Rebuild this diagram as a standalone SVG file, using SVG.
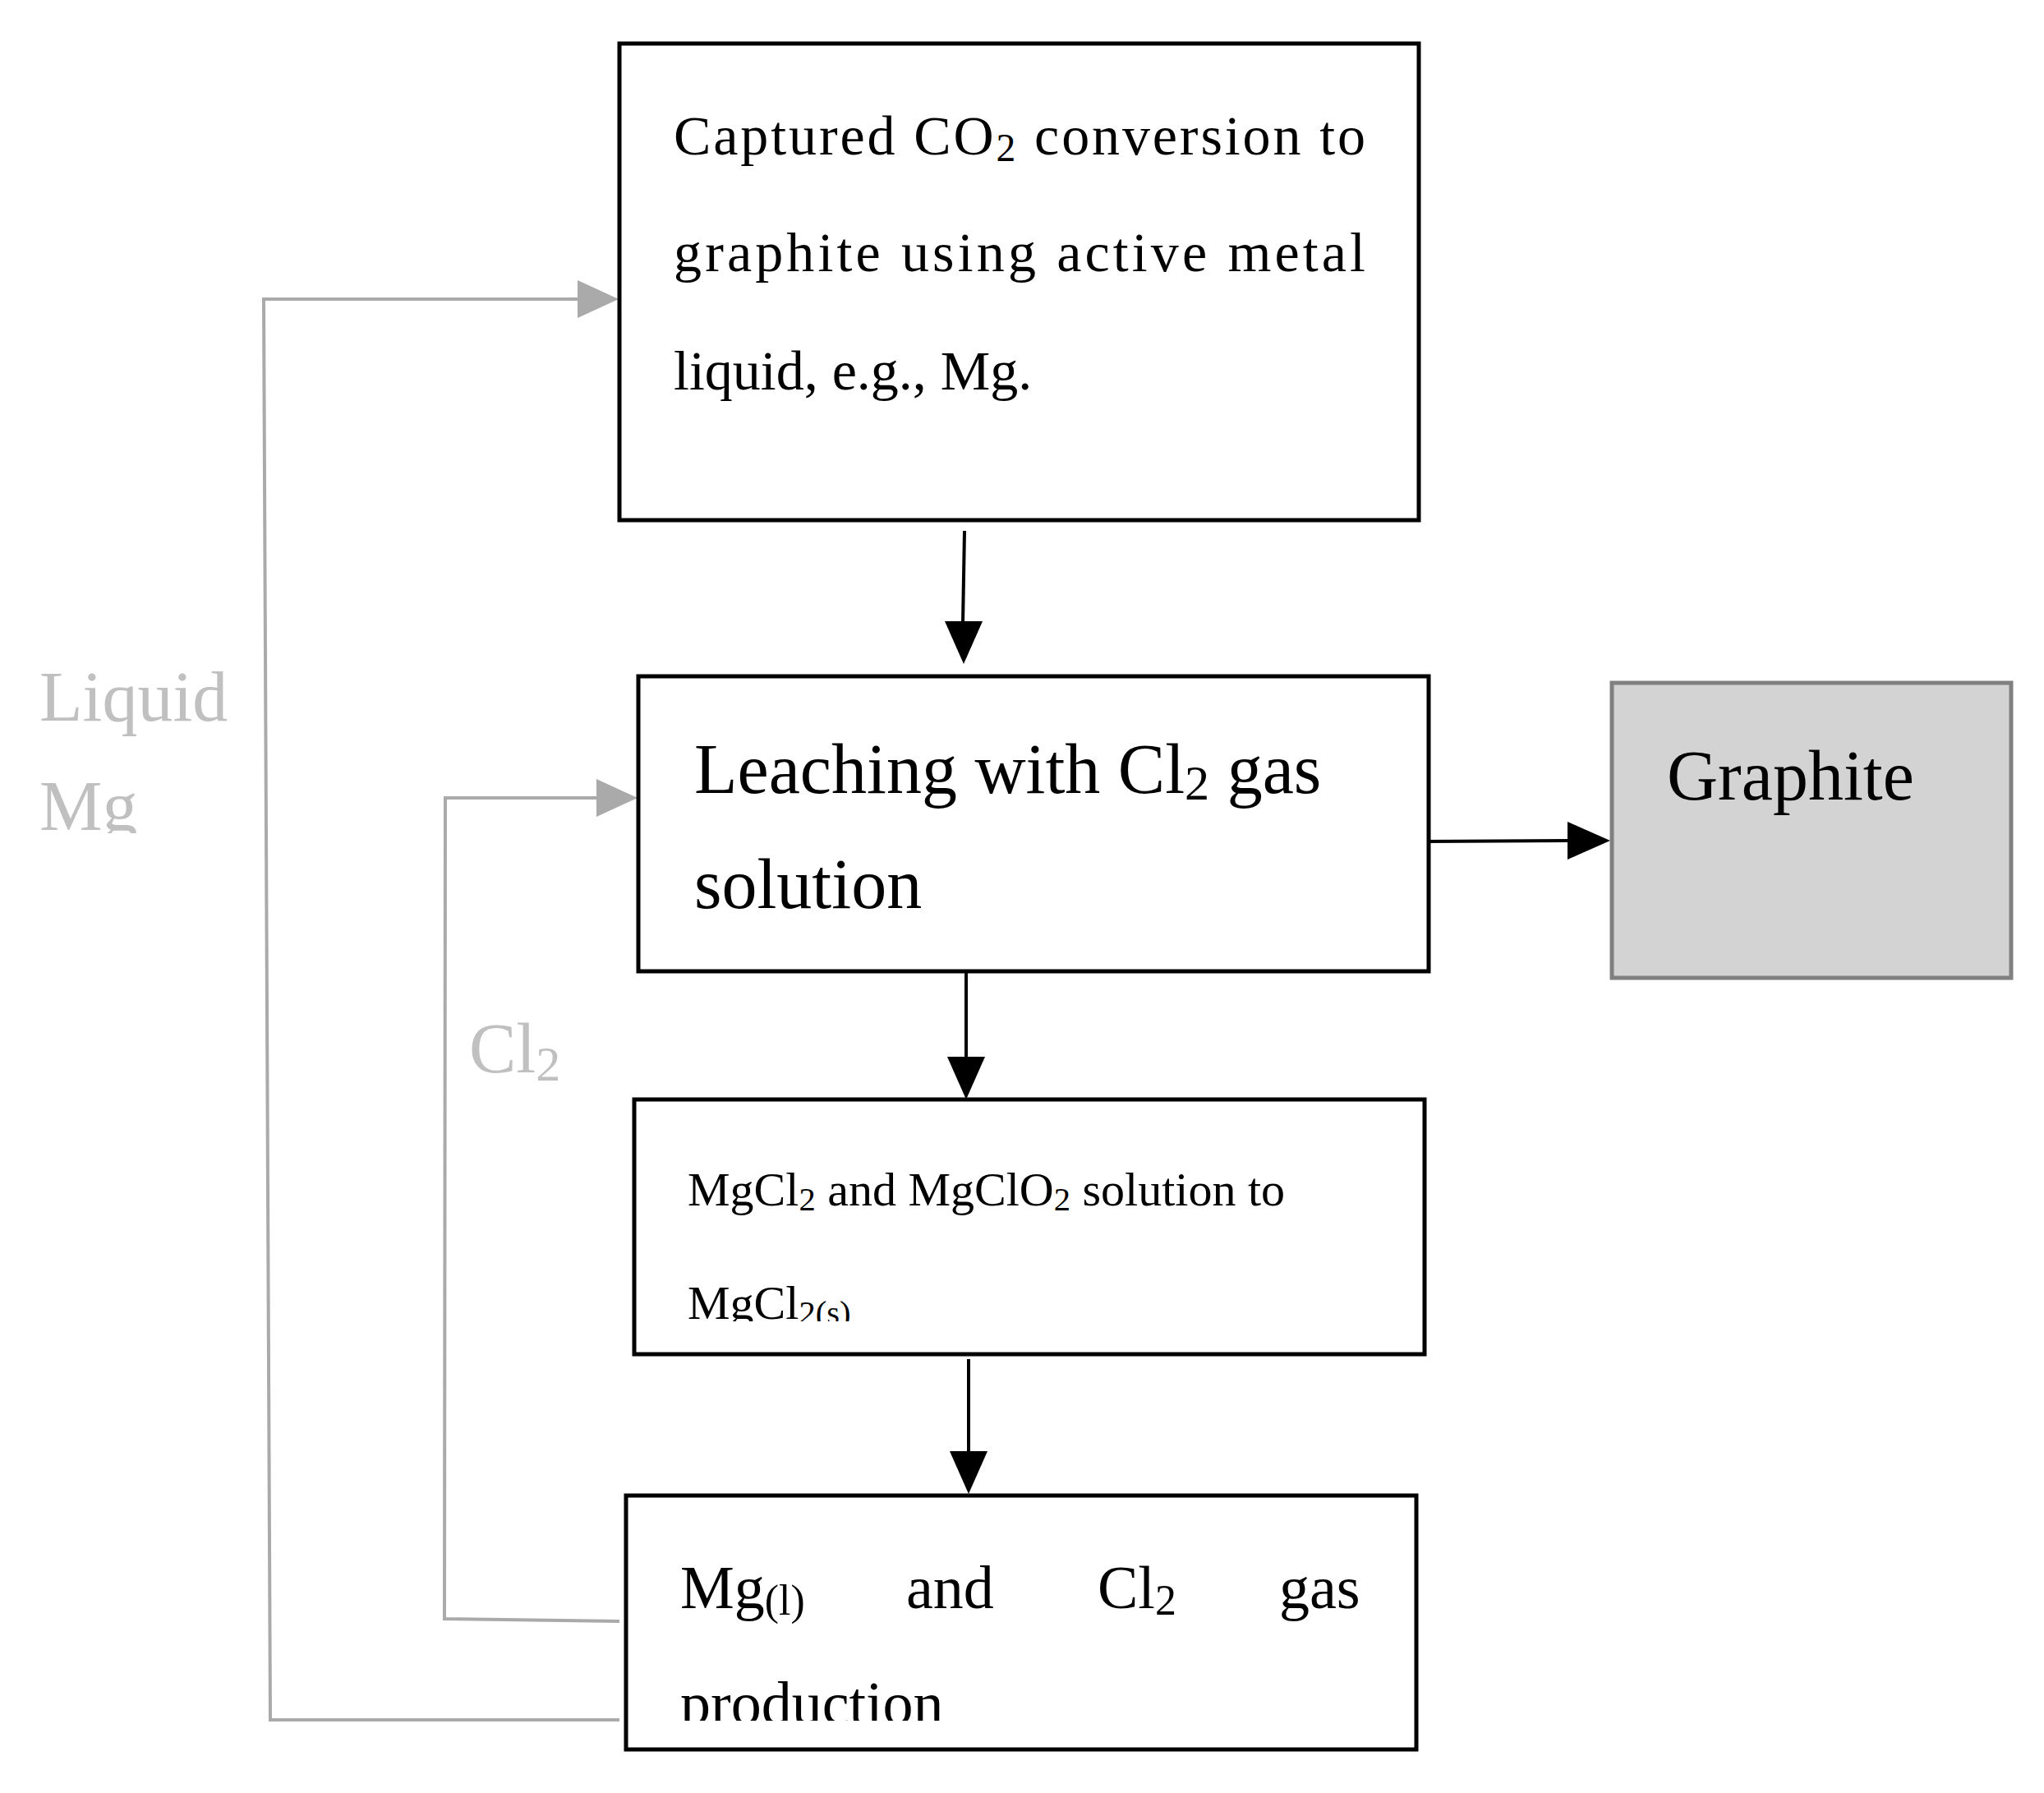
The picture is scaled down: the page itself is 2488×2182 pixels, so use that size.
<svg xmlns="http://www.w3.org/2000/svg" width="2488" height="2182" viewBox="0 0 2488 2182">
<style>
.box{fill:#fff;stroke:#000;stroke-width:5}
.t{font-family:"Liberation Serif",serif;fill:#000}
.g{font-family:"Liberation Serif",serif;fill:#c0c0c0}
.ln{fill:none;stroke:#000;stroke-width:4}
.gl{fill:none;stroke:#aaa;stroke-width:4}
.s{font-size:0.7em}
</style>
<defs>
<marker id="ab" markerWidth="10" markerHeight="10" refX="9" refY="5" orient="auto" markerUnits="userSpaceOnUse" viewBox="0 0 10 10"><path d="M0,0L10,5L0,10z" fill="#000"/></marker>
<marker id="ag" markerWidth="10" markerHeight="10" refX="9" refY="5" orient="auto" markerUnits="userSpaceOnUse" viewBox="0 0 10 10"><path d="M0,0L10,5L0,10z" fill="#aaa"/></marker>
<clipPath id="c3"><rect x="772" y="1338" width="962" height="270"/></clipPath>
<clipPath id="c4"><rect x="762" y="1820" width="962" height="274"/></clipPath>
<clipPath id="cl"><rect x="0" y="700" width="400" height="314"/></clipPath>
</defs>
<g id="connectors">
<path class="ln" d="M1174,646L1172,758"/><path d="M1150,756L1196,756L1173,808z"/>
<path class="ln" d="M1176,1177L1176,1288"/><path d="M1153,1286L1199,1286L1176,1338z"/>
<path class="ln" d="M1179,1654L1179,1768"/><path d="M1156,1766L1202,1766L1179,1818z"/>
<path class="ln" d="M1734,1024L1910,1023"/><path d="M1908,1000L1908,1046L1960,1023z"/>
<path class="gl" d="M754,2093L329,2093L321,364L705,364"/><path fill="#aaa" d="M703,341L703,387L753,364z"/>
<path class="gl" d="M754,1973L541,1970L542,971L728,971"/><path fill="#aaa" d="M726,948L726,994L776,971z"/>
</g>
<g id="n1"><rect class="box" x="754" y="53" width="973" height="580"/>
<text class="t" font-size="68"><tspan x="820" y="188" textLength="842">Captured CO<tspan class="s" dy="8">2</tspan><tspan dy="-8"> conversion to</tspan></tspan><tspan x="820" y="330" textLength="842" lengthAdjust="spacing">graphite using active metal</tspan><tspan x="820" y="474">liquid, e.g., Mg.</tspan></text></g>
<g id="n2"><rect class="box" x="777" y="823" width="962" height="359"/>
<text class="t" font-size="86"><tspan x="845" y="965">Leaching with Cl<tspan class="s" dy="8">2</tspan><tspan dy="-8"> gas</tspan></tspan><tspan x="845" y="1105">solution</tspan></text></g>
<g id="graphite"><rect x="1962" y="831" width="486" height="359" fill="#d3d3d3" stroke="#808080" stroke-width="5"/>
<text class="t" font-size="86" x="2029" y="973">Graphite</text></g>
<g id="n3"><rect class="box" x="772" y="1338" width="962" height="310"/>
<text class="t" font-size="58" clip-path="url(#c3)"><tspan x="837" y="1467">MgCl<tspan class="s" dy="6">2</tspan><tspan dy="-6">   and   MgClO</tspan><tspan class="s" dy="6">2</tspan><tspan dy="-6">   solution   to</tspan></tspan><tspan x="837" y="1605">MgCl<tspan class="s" dy="6">2(s)</tspan></tspan></text></g>
<g id="n4"><rect class="box" x="762" y="1820" width="962" height="309"/>
<text class="t" font-size="74" clip-path="url(#c4)"><tspan x="828" y="1957">Mg<tspan class="s" dy="8">(l)</tspan></tspan><tspan x="1103" y="1957">and</tspan><tspan x="1336" y="1957">Cl<tspan class="s" dy="8">2</tspan></tspan><tspan x="1557" y="1957">gas</tspan><tspan x="828" y="2098">production</tspan></text></g>
<g id="labels">
<text class="g" font-size="86" clip-path="url(#cl)"><tspan x="48" y="877">Liquid</tspan><tspan x="48" y="1010">Mg</tspan></text>
<text class="g" font-size="86" x="571" y="1305">Cl<tspan class="s" dy="10">2</tspan></text>
</g>
</svg>
